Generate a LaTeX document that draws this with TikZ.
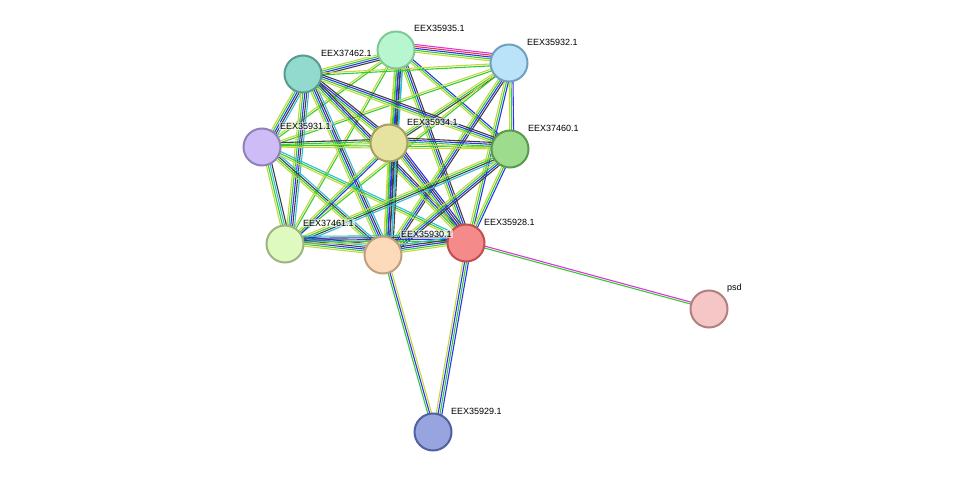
\documentclass[tikz,border=0pt]{standalone}
\usepackage{fontspec}
\setmainfont{Liberation Sans}
\usetikzlibrary{calc,backgrounds}
\definecolor{eg}{HTML}{33CC33}
\definecolor{eb}{HTML}{3030F0}
\definecolor{ey}{HTML}{C4D83C}
\definecolor{ek}{HTML}{404040}
\definecolor{ec}{HTML}{33BBDD}
\definecolor{em}{HTML}{DD33DD}
\definecolor{er}{HTML}{EE3344}
\tikzset{
  prot/.style={circle, draw, line width=2pt, minimum size=37pt, inner sep=0pt},
  lab/.style={anchor=west, font=\fontsize{9pt}{10pt}\selectfont, inner sep=1pt, fill=white, fill opacity=0.6, text opacity=1},
  edge/.style={line width=1.1pt}
}
\newcommand\bundle[3]{%
  \foreach \c [count=\i] in {#3}{
    \pgfmathsetmacro\off{(\i-1)*1.9}
    \draw[edge,\c] ($(#1)!\off pt!90:(#2)$) -- ($(#2)!\off pt!-90:(#1)$);
  }}
\begin{document}
\begin{tikzpicture}[x=1pt, y=-1pt]
  \useasboundingbox (0,0) rectangle (975,478);

  % proteins
  \node[prot, fill={rgb,255:red,184;green,246;blue,208}, draw={rgb,255:red,128;green,200;blue,150}] (t5) at (396,50) {};
  \node[prot, fill={rgb,255:red,186;green,226;blue,248}, draw={rgb,255:red,112;green,160;blue,192}] (t2) at (509,63) {};
  \node[prot, fill={rgb,255:red,146;green,218;blue,206}, draw={rgb,255:red,90;green,154;blue,144}] (n62) at (303,74) {};
  \node[prot, fill={rgb,255:red,206;green,188;blue,246}, draw={rgb,255:red,146;green,128;blue,186}] (t1) at (262,147) {};
  \node[prot, fill={rgb,255:red,230;green,226;blue,160}, draw={rgb,255:red,168;green,160;blue,96}] (t4) at (389,143) {};
  \node[prot, fill={rgb,255:red,156;green,220;blue,140}, draw={rgb,255:red,90;green,154;blue,80}] (n60) at (510,149) {};
  \node[prot, fill={rgb,255:red,222;green,250;blue,190}, draw={rgb,255:red,156;green,180;blue,128}] (n61) at (285,244) {};
  \node[prot, fill={rgb,255:red,252;green,218;blue,186}, draw={rgb,255:red,190;green,160;blue,124}] (t0) at (383,255) {};
  \node[prot, fill={rgb,255:red,244;green,138;blue,138}, draw={rgb,255:red,192;green,80;blue,80}] (t8) at (466,243) {};
  \node[prot, fill={rgb,255:red,246;green,198;blue,198}, draw={rgb,255:red,176;green,128;blue,128}] (psd) at (709,309) {};
  \node[prot, fill={rgb,255:red,152;green,164;blue,224}, draw={rgb,255:red,80;green,96;blue,160}] (t9) at (433,432) {};

  % labels
  \node[lab] at ($(t5)+(17,-22)$) {EEX35935.1};
  \node[lab] at ($(t2)+(17,-21)$) {EEX35932.1};
  \node[lab] at ($(n62)+(17,-21)$) {EEX37462.1};
  \node[lab] at ($(t1)+(17,-21)$) {EEX35931.1};
  \node[lab] at ($(t4)+(17,-21)$) {EEX35934.1};
  \node[lab] at ($(n60)+(17,-21)$) {EEX37460.1};
  \node[lab] at ($(n61)+(17,-21)$) {EEX37461.1};
  \node[lab] at ($(t0)+(17,-21)$) {EEX35930.1};
  \node[lab] at ($(t8)+(17,-21)$) {EEX35928.1};
  \node[lab] at ($(psd)+(17,-21)$) {psd};
  \node[lab] at ($(t9)+(17,-21)$) {EEX35929.1};

  % interactions
  \begin{pgfonlayer}{background}
    \bundle{t5}{t2}{ey,eg,eb,er,em}
    \bundle{t5}{n62}{ey,eg,eb,ek}
    \bundle{t5}{t1}{ey,eg}
    \bundle{t5}{t4}{ey,eg,eb,ek,ec}
    \bundle{t5}{n60}{ey,eg,eb}
    \bundle{t5}{n61}{ey,eg}
    \bundle{t5}{t0}{ey,eg,eb,ek,ec}
    \bundle{t5}{t8}{ey,eg,eb,ek}
    \bundle{t2}{n62}{ey,eg}
    \bundle{t2}{t1}{ey,eg}
    \bundle{t2}{t4}{ey,eg,ek}
    \bundle{t2}{n60}{ey,eg,eb}
    \bundle{t2}{n61}{ey,eg}
    \bundle{t2}{t0}{ey,eg,eb,ek}
    \bundle{t2}{t8}{ey,eg,eb}
    \bundle{n62}{t1}{ey,eg,eb,ek,ec}
    \bundle{n62}{t4}{ey,eg,eb,ek}
    \bundle{n62}{n60}{ey,eg,eb,ek}
    \bundle{n62}{n61}{ey,eg,eb,ek,ec}
    \bundle{n62}{t0}{ey,eg,eb,ek,ec}
    \bundle{n62}{t8}{ey,eg,eb,ek}
    \bundle{t1}{t4}{ey,eg,ek}
    \bundle{t1}{n60}{ey,eg}
    \bundle{t1}{n61}{ey,eg,ec,ek}
    \bundle{t1}{t0}{ey,eg,ek,ec}
    \bundle{t1}{t8}{ey,eg,ec}
    \bundle{t4}{n60}{ey,eg,eb,ek}
    \bundle{t4}{n61}{ey,eg,eb}
    \bundle{t4}{t0}{ey,eg,eb,ek,ec,ek}
    \bundle{t4}{t8}{ey,eg,eb,ek,eb}
    \bundle{n60}{n61}{ey,eg,ek,ec}
    \bundle{n60}{t0}{ey,eg,eb,ek}
    \bundle{n60}{t8}{ey,eg,eb}
    \bundle{n61}{t0}{ey,eg,eb,ek,ec,eb}
    \bundle{n61}{t8}{ey,eg,eb,ek,ec}
    \bundle{t0}{t8}{ey,eg,eb,ek,ec}
    \bundle{t8}{psd}{eg,em}
    \bundle{t0}{t9}{eg,eb,ey}
    \bundle{t8}{t9}{ey,eb,eg,eb}
  \end{pgfonlayer}
\end{tikzpicture}
\end{document}
